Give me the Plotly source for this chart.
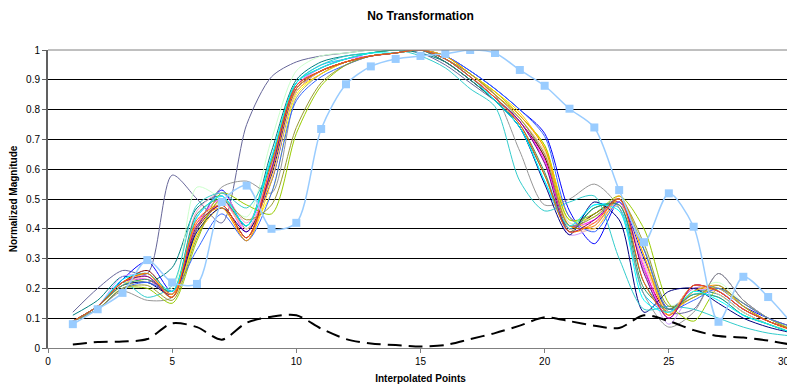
import plotly.graph_objects as go

points = list(range(1, 31))

ref_marked = [0.08, 0.13, 0.185, 0.295, 0.22, 0.215, 0.49, 0.545, 0.40, 0.42,
              0.735, 0.885, 0.945, 0.97, 0.98, 0.987, 1.0, 0.99, 0.933, 0.88,
              0.803, 0.74, 0.53, 0.355, 0.519, 0.407, 0.088, 0.239, 0.171, 0.078]

ref_dashed = [0.012, 0.02, 0.022, 0.03, 0.083, 0.07, 0.028, 0.085, 0.105, 0.11,
              0.065, 0.03, 0.015, 0.01, 0.005, 0.01, 0.03, 0.05, 0.075, 0.103,
              0.09, 0.075, 0.067, 0.11, 0.09, 0.06, 0.04, 0.035, 0.025, 0.01]

s_slate = [0.12, 0.20, 0.26, 0.25, 0.58, 0.50, 0.42, 0.75, 0.91, 0.96, 0.98, 0.99, 1.00, 1.00, 0.99, 0.95, 0.89, 0.83, 0.77, 0.64, 0.41, 0.45, 0.50, 0.33, 0.12, 0.13, 0.25, 0.16, 0.10, 0.06]
s_teal = [0.11, 0.16, 0.24, 0.22, 0.27, 0.47, 0.51, 0.41, 0.66, 0.90, 0.96, 0.98, 0.99, 1.00, 0.99, 0.96, 0.90, 0.83, 0.74, 0.58, 0.40, 0.47, 0.48, 0.22, 0.12, 0.19, 0.18, 0.12, 0.08, 0.05]
s_blue = [0.09, 0.14, 0.23, 0.29, 0.19, 0.40, 0.53, 0.40, 0.56, 0.86, 0.93, 0.96, 0.98, 0.99, 1.00, 0.98, 0.93, 0.87, 0.80, 0.72, 0.46, 0.35, 0.49, 0.30, 0.13, 0.20, 0.20, 0.14, 0.10, 0.07]
s_orange = [0.09, 0.14, 0.22, 0.25, 0.17, 0.43, 0.48, 0.37, 0.62, 0.88, 0.93, 0.96, 0.98, 0.99, 1.00, 0.97, 0.91, 0.84, 0.75, 0.58, 0.39, 0.42, 0.50, 0.22, 0.11, 0.21, 0.19, 0.13, 0.09, 0.06]
s_darkred = [0.09, 0.14, 0.22, 0.26, 0.18, 0.40, 0.48, 0.37, 0.60, 0.87, 0.93, 0.96, 0.98, 0.99, 1.00, 0.97, 0.91, 0.84, 0.76, 0.64, 0.40, 0.45, 0.49, 0.26, 0.12, 0.21, 0.19, 0.13, 0.09, 0.06]
s_yellow = [0.09, 0.13, 0.20, 0.23, 0.17, 0.38, 0.50, 0.40, 0.52, 0.85, 0.92, 0.96, 0.98, 0.99, 1.00, 0.98, 0.92, 0.86, 0.78, 0.68, 0.43, 0.44, 0.50, 0.31, 0.12, 0.19, 0.20, 0.14, 0.09, 0.06]
s_sky = [0.09, 0.14, 0.22, 0.24, 0.18, 0.44, 0.51, 0.41, 0.64, 0.89, 0.95, 0.97, 0.99, 1.00, 1.00, 0.97, 0.91, 0.83, 0.74, 0.56, 0.40, 0.48, 0.47, 0.18, 0.12, 0.18, 0.17, 0.11, 0.08, 0.05]
s_magenta = [0.09, 0.14, 0.22, 0.23, 0.18, 0.42, 0.50, 0.39, 0.60, 0.88, 0.94, 0.97, 0.98, 0.99, 1.00, 0.97, 0.91, 0.84, 0.76, 0.63, 0.41, 0.43, 0.49, 0.27, 0.10, 0.21, 0.19, 0.13, 0.09, 0.06]
s_pink = [0.09, 0.14, 0.22, 0.24, 0.18, 0.46, 0.52, 0.42, 0.60, 0.87, 0.93, 0.96, 0.98, 0.99, 1.00, 0.97, 0.91, 0.85, 0.77, 0.65, 0.42, 0.42, 0.48, 0.28, 0.12, 0.20, 0.19, 0.13, 0.09, 0.06]
s_lavender = [0.09, 0.14, 0.24, 0.24, 0.17, 0.44, 0.51, 0.40, 0.61, 0.88, 0.94, 0.97, 0.98, 0.99, 1.00, 0.97, 0.91, 0.84, 0.76, 0.62, 0.38, 0.41, 0.49, 0.26, 0.08, 0.19, 0.19, 0.13, 0.09, 0.06]
s_lightgreen = [0.09, 0.14, 0.22, 0.22, 0.20, 0.54, 0.50, 0.44, 0.70, 0.93, 0.98, 0.99, 1.00, 1.00, 1.00, 0.97, 0.91, 0.84, 0.77, 0.66, 0.42, 0.44, 0.50, 0.34, 0.14, 0.19, 0.22, 0.15, 0.10, 0.06]
s_gray = [0.09, 0.13, 0.19, 0.16, 0.17, 0.40, 0.54, 0.56, 0.52, 0.84, 0.92, 0.96, 0.98, 0.99, 1.00, 0.97, 0.92, 0.85, 0.66, 0.48, 0.50, 0.55, 0.47, 0.18, 0.07, 0.12, 0.25, 0.16, 0.10, 0.06]
s_yellowgreen = [0.09, 0.13, 0.20, 0.20, 0.15, 0.36, 0.52, 0.48, 0.45, 0.72, 0.88, 0.95, 0.98, 0.99, 1.00, 0.98, 0.92, 0.86, 0.78, 0.68, 0.43, 0.45, 0.51, 0.40, 0.15, 0.09, 0.20, 0.15, 0.10, 0.06]
s_gold = [0.09, 0.14, 0.21, 0.25, 0.17, 0.38, 0.47, 0.36, 0.56, 0.86, 0.92, 0.96, 0.98, 0.99, 1.00, 0.98, 0.92, 0.86, 0.79, 0.67, 0.44, 0.40, 0.50, 0.33, 0.13, 0.17, 0.20, 0.15, 0.10, 0.07]
s_navy = [0.09, 0.14, 0.21, 0.22, 0.18, 0.39, 0.47, 0.39, 0.58, 0.87, 0.93, 0.96, 0.98, 0.99, 1.00, 0.96, 0.90, 0.83, 0.74, 0.55, 0.38, 0.49, 0.43, 0.12, 0.19, 0.20, 0.15, 0.10, 0.07, 0.05]
s_tan = [0.09, 0.14, 0.21, 0.24, 0.18, 0.41, 0.49, 0.40, 0.57, 0.86, 0.93, 0.96, 0.98, 0.99, 1.00, 0.97, 0.92, 0.85, 0.77, 0.66, 0.40, 0.40, 0.48, 0.29, 0.12, 0.21, 0.18, 0.12, 0.08, 0.06]
s_turquoise = [0.09, 0.14, 0.22, 0.17, 0.21, 0.48, 0.52, 0.47, 0.62, 0.89, 0.95, 0.98, 0.99, 1.00, 0.98, 0.94, 0.87, 0.81, 0.56, 0.46, 0.49, 0.51, 0.30, 0.13, 0.14, 0.13, 0.10, 0.07, 0.05, 0.04]
s_royal = [0.09, 0.13, 0.20, 0.22, 0.19, 0.33, 0.45, 0.36, 0.52, 0.83, 0.91, 0.95, 0.98, 0.99, 1.00, 0.98, 0.93, 0.87, 0.80, 0.71, 0.44, 0.39, 0.49, 0.33, 0.13, 0.16, 0.20, 0.15, 0.10, 0.07]
s_lightorange = [0.09, 0.14, 0.22, 0.25, 0.18, 0.42, 0.47, 0.36, 0.59, 0.87, 0.93, 0.96, 0.98, 0.99, 1.00, 0.98, 0.92, 0.85, 0.78, 0.67, 0.41, 0.41, 0.51, 0.31, 0.11, 0.19, 0.21, 0.14, 0.09, 0.06]
s_seagreen = [0.09, 0.14, 0.21, 0.23, 0.19, 0.45, 0.50, 0.41, 0.63, 0.89, 0.94, 0.97, 0.99, 1.00, 1.00, 0.96, 0.90, 0.83, 0.75, 0.59, 0.39, 0.47, 0.48, 0.20, 0.13, 0.18, 0.17, 0.11, 0.08, 0.05]
s_olive = [0.09, 0.13, 0.20, 0.21, 0.16, 0.37, 0.50, 0.43, 0.48, 0.74, 0.89, 0.95, 0.98, 0.99, 1.00, 0.97, 0.92, 0.85, 0.77, 0.65, 0.41, 0.44, 0.50, 0.35, 0.14, 0.17, 0.21, 0.14, 0.09, 0.06]
s_cyan = [0.09, 0.14, 0.23, 0.25, 0.19, 0.44, 0.51, 0.41, 0.64, 0.89, 0.94, 0.97, 0.99, 0.99, 1.00, 0.97, 0.91, 0.83, 0.74, 0.56, 0.41, 0.48, 0.46, 0.16, 0.12, 0.19, 0.16, 0.11, 0.08, 0.05]
s_purple = [0.09, 0.14, 0.22, 0.24, 0.17, 0.41, 0.48, 0.37, 0.60, 0.88, 0.93, 0.96, 0.98, 0.99, 1.00, 0.97, 0.91, 0.84, 0.76, 0.62, 0.39, 0.43, 0.50, 0.25, 0.10, 0.21, 0.19, 0.13, 0.09, 0.06]

x_ticks = [0, 5, 10, 15, 20, 25, 30]
y_ticks = [0, 0.1, 0.2, 0.3, 0.4, 0.5, 0.6, 0.7, 0.8, 0.9, 1]
y_labels = ["0", "0.1", "0.2", "0.3", "0.4", "0.5", "0.6", "0.7", "0.8", "0.9", "1"]

series = [
    (s_slate, "#666699"), (s_teal, "#008080"), (s_blue, "#0000FF"),
    (s_darkred, "#800000"), (s_yellow, "#FFFF00"), (s_sky, "#00CCFF"),
    (s_magenta, "#FF00FF"), (s_pink, "#FF99CC"), (s_lavender, "#CC99FF"),
    (s_lightgreen, "#CCFFCC"), (s_gray, "#969696"), (s_yellowgreen, "#99CC00"),
    (s_gold, "#FFCC00"), (s_navy, "#000080"), (s_tan, "#FFCC99"),
    (s_turquoise, "#33CCCC"), (s_royal, "#3366FF"), (s_lightorange, "#FF9900"),
    (s_seagreen, "#339966"), (s_olive, "#999933"), (s_cyan, "#00FFFF"),
    (s_purple, "#800080"), (s_orange, "#FF6600"),
]

fig = go.Figure()
for vals, col in series:
    fig.add_trace(go.Scatter(x=points, y=vals, mode="lines",
                             line=dict(color=col, width=1, shape="spline", smoothing=0.8),
                             showlegend=False, hoverinfo="skip"))

fig.add_trace(go.Scatter(x=points, y=ref_marked, mode="lines+markers",
                         line=dict(color="#99CCFF", width=1.5, shape="spline", smoothing=0.8),
                         marker=dict(symbol="square", size=8, color="#99CCFF"),
                         showlegend=False))
fig.add_trace(go.Scatter(x=points, y=ref_dashed, mode="lines",
                         line=dict(color="black", width=2, dash="14px,7px", shape="spline", smoothing=0.8),
                         showlegend=False))

# The page body has an 8px margin, so the figure is sized to end at the window edge.
W, H = 787, 382
font_family = "Liberation Sans, Arial, sans-serif"
fig.update_layout(
    width=W, height=H,
    margin=dict(l=40, r=2, t=42, b=42, autoexpand=False),
    paper_bgcolor="white", plot_bgcolor="white",
    font=dict(family=font_family, size=10, color="black"),
    title=dict(text="<b>No Transformation</b>", x=0.5, xanchor="center",
               xref="paper", y=1 - 8 / H, yref="container", yanchor="middle",
               font=dict(size=12)),
    xaxis=dict(range=[0, 30], tickvals=x_ticks[:-1], automargin=False,
               showgrid=False, zeroline=False, showline=True, linecolor="#808080", linewidth=1,
               ticks="outside", ticklen=4, tickcolor="#808080",
               title=dict(text="<b>Interpolated Points</b>", font=dict(size=10), standoff=8)),
    yaxis=dict(range=[0, 1], tickvals=y_ticks, ticktext=y_labels, automargin=False,
               showgrid=True, gridcolor="black", gridwidth=1, zeroline=False,
               showline=True, linecolor="#606060", linewidth=2,
               ticks="outside", ticklen=4, tickcolor="#606060",
               title=dict(text="<b>Normalized Magnitude</b>", font=dict(size=10), standoff=14)),
    shapes=[
        dict(type="line", xref="paper", yref="paper", x0=0, x1=1, y0=1, y1=1,
             line=dict(color="#808080", width=1)),
        dict(type="line", xref="paper", yref="paper", x0=1, x1=1, y0=0, y1=1,
             line=dict(color="#A0A0A0", width=1)),
    ],
    annotations=[
        dict(x=x_ticks[-1], xref="x", y=0, yref="paper", yshift=-6, xshift=-1,
             text=str(x_ticks[-1]), showarrow=False, xanchor="right", yanchor="top",
             font=dict(size=10)),
    ],
)

fig.write_html("out.html")
